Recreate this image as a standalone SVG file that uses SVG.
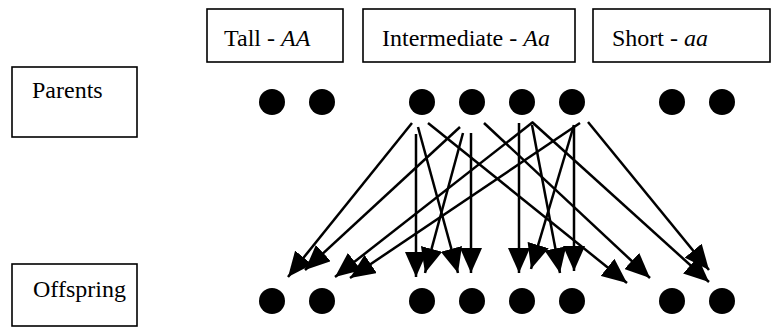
<svg xmlns="http://www.w3.org/2000/svg" width="778" height="327" viewBox="0 0 778 327">
  <style>
    .box { fill: #fff; stroke: #000; stroke-width: 1.6; }
    .lbl { font-family: "Liberation Serif", "Times New Roman", serif; font-size: 24px; fill: #000; }
    .it { font-style: italic; }
    .dot { fill: #000; }
    .arrow { stroke: #000; stroke-width: 2.5; fill: none; marker-end: url(#head); }
  </style>
  <defs>
    <marker id="head" markerUnits="userSpaceOnUse" markerWidth="25" markerHeight="22" refX="25" refY="11" orient="auto">
      <path d="M0,0 L25,11 L0,22 Z" fill="#000"/>
    </marker>
  </defs>

  <!-- genotype headers -->
  <g id="tall">
    <rect class="box" x="207" y="9" width="136" height="53"/>
    <text class="lbl" x="224" y="46">Tall - <tspan class="it">AA</tspan></text>
  </g>
  <g id="intermediate">
    <rect class="box" x="363" y="9" width="212" height="53"/>
    <text class="lbl" x="382" y="46">Intermediate - <tspan class="it">Aa</tspan></text>
  </g>
  <g id="short">
    <rect class="box" x="593" y="9" width="177" height="53"/>
    <text class="lbl" x="612" y="46">Short - <tspan class="it">aa</tspan></text>
  </g>

  <!-- row labels -->
  <g id="parents">
    <rect class="box" x="12" y="67" width="125" height="70"/>
    <text class="lbl" x="32" y="98">Parents</text>
  </g>
  <g id="offspring">
    <rect class="box" x="12" y="264" width="125" height="62"/>
    <text class="lbl" x="33" y="297">Offspring</text>
  </g>

  <!-- parent alleles -->
  <g id="parent-dots">
    <circle class="dot" cx="272" cy="102" r="13"/>
    <circle class="dot" cx="322" cy="102" r="13"/>
    <circle class="dot" cx="422" cy="102" r="13"/>
    <circle class="dot" cx="472" cy="102" r="13"/>
    <circle class="dot" cx="522" cy="102" r="13"/>
    <circle class="dot" cx="572" cy="102" r="13"/>
    <circle class="dot" cx="672" cy="102" r="13"/>
    <circle class="dot" cx="722" cy="102" r="13"/>
  </g>

  <!-- offspring alleles -->
  <g id="offspring-dots">
    <circle class="dot" cx="272" cy="301" r="13"/>
    <circle class="dot" cx="322" cy="301" r="13"/>
    <circle class="dot" cx="422" cy="301" r="13"/>
    <circle class="dot" cx="472" cy="301" r="13"/>
    <circle class="dot" cx="522" cy="301" r="13"/>
    <circle class="dot" cx="572" cy="301" r="13"/>
    <circle class="dot" cx="672" cy="301" r="13"/>
    <circle class="dot" cx="722" cy="301" r="13"/>
  </g>

  <!-- allele transmission arrows -->
  <g id="connectors">
    <line class="arrow" x1="412" y1="123" x2="288" y2="277"/>
    <line class="arrow" x1="416" y1="134" x2="416" y2="277"/>
    <line class="arrow" x1="418" y1="127" x2="458" y2="273"/>
    <line class="arrow" x1="428" y1="123" x2="627" y2="283"/>

    <line class="arrow" x1="460" y1="127" x2="305" y2="270"/>
    <line class="arrow" x1="463" y1="133" x2="425" y2="273"/>
    <line class="arrow" x1="471" y1="133" x2="471" y2="273"/>
    <line class="arrow" x1="484" y1="123" x2="650" y2="278"/>

    <line class="arrow" x1="519" y1="123" x2="519" y2="273"/>
    <line class="arrow" x1="532" y1="125" x2="560" y2="273"/>
    <line class="arrow" x1="532" y1="122" x2="709" y2="282"/>
    <line class="arrow" x1="533" y1="122" x2="335" y2="277"/>

    <line class="arrow" x1="574" y1="125" x2="574" y2="271"/>
    <line class="arrow" x1="574" y1="125" x2="531" y2="269"/>
    <line class="arrow" x1="580" y1="123" x2="350" y2="278"/>
    <line class="arrow" x1="588" y1="122" x2="709" y2="270"/>
  </g>
</svg>
